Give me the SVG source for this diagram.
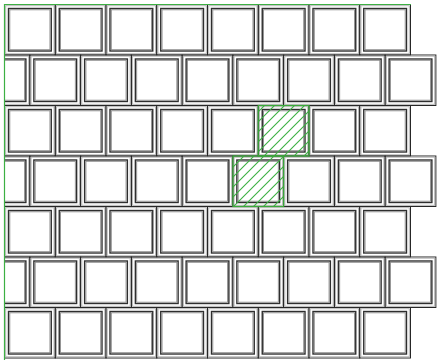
<svg xmlns="http://www.w3.org/2000/svg" xmlns:xlink="http://www.w3.org/1999/xlink" width="437" height="360" viewBox="0 0 437 360">
<style>
.outer{fill:none;stroke:#262626;stroke-width:1}
.halo{fill:none;stroke:#b5b5b5;stroke-width:1}
.inner{fill:none;stroke:#2e2e2e;stroke-width:1.4}
.inner2{fill:none;stroke:#8a8a8a;stroke-width:0.9}
.hl{fill:url(#hatch);stroke:#3aa83a;stroke-width:1.2}
.frame{fill:none;stroke:#3cb043;stroke-width:1.2}
</style>
<defs>
<clipPath id="clip"><rect x="4" y="4" width="433" height="356"/></clipPath>
<pattern id="hatch" patternUnits="userSpaceOnUse" width="10" height="10">
<path d="M-2,2 L2,-2 M0,10 L10,0 M8,12 L12,8" stroke="#3cb043" stroke-width="1.1"/>
</pattern>
<g id="tile">
<rect class="outer" x="0" y="0" width="50.75" height="50.5"/>
<rect class="halo" x="1.2" y="1.2" width="48.35" height="48.1"/>
<rect class="inner" x="4" y="4" width="42.75" height="42.5"/>
<rect class="inner2" x="5.3" y="5.3" width="40.15" height="39.9"/>
</g>
</defs>
<g id="tiles" clip-path="url(#clip)">
<g id="row0">
<use xlink:href="#tile" x="4.5" y="4.5"/><use xlink:href="#tile" x="55.25" y="4.5"/><use xlink:href="#tile" x="106" y="4.5"/><use xlink:href="#tile" x="156.75" y="4.5"/><use xlink:href="#tile" x="207.5" y="4.5"/><use xlink:href="#tile" x="258.25" y="4.5"/><use xlink:href="#tile" x="309" y="4.5"/><use xlink:href="#tile" x="359.75" y="4.5"/>
</g>
<g id="row1">
<use xlink:href="#tile" x="-20.875" y="55"/><use xlink:href="#tile" x="29.875" y="55"/><use xlink:href="#tile" x="80.625" y="55"/><use xlink:href="#tile" x="131.375" y="55"/><use xlink:href="#tile" x="182.125" y="55"/><use xlink:href="#tile" x="232.875" y="55"/><use xlink:href="#tile" x="283.625" y="55"/><use xlink:href="#tile" x="334.375" y="55"/><use xlink:href="#tile" x="385.125" y="55"/>
</g>
<g id="row2">
<use xlink:href="#tile" x="4.5" y="105.5"/><use xlink:href="#tile" x="55.25" y="105.5"/><use xlink:href="#tile" x="106" y="105.5"/><use xlink:href="#tile" x="156.75" y="105.5"/><use xlink:href="#tile" x="207.5" y="105.5"/><use xlink:href="#tile" x="258.25" y="105.5"/><use xlink:href="#tile" x="309" y="105.5"/><use xlink:href="#tile" x="359.75" y="105.5"/>
</g>
<g id="row3">
<use xlink:href="#tile" x="-20.875" y="156"/><use xlink:href="#tile" x="29.875" y="156"/><use xlink:href="#tile" x="80.625" y="156"/><use xlink:href="#tile" x="131.375" y="156"/><use xlink:href="#tile" x="182.125" y="156"/><use xlink:href="#tile" x="232.875" y="156"/><use xlink:href="#tile" x="283.625" y="156"/><use xlink:href="#tile" x="334.375" y="156"/><use xlink:href="#tile" x="385.125" y="156"/>
</g>
<g id="row4">
<use xlink:href="#tile" x="4.5" y="206.5"/><use xlink:href="#tile" x="55.25" y="206.5"/><use xlink:href="#tile" x="106" y="206.5"/><use xlink:href="#tile" x="156.75" y="206.5"/><use xlink:href="#tile" x="207.5" y="206.5"/><use xlink:href="#tile" x="258.25" y="206.5"/><use xlink:href="#tile" x="309" y="206.5"/><use xlink:href="#tile" x="359.75" y="206.5"/>
</g>
<g id="row5">
<use xlink:href="#tile" x="-20.875" y="257"/><use xlink:href="#tile" x="29.875" y="257"/><use xlink:href="#tile" x="80.625" y="257"/><use xlink:href="#tile" x="131.375" y="257"/><use xlink:href="#tile" x="182.125" y="257"/><use xlink:href="#tile" x="232.875" y="257"/><use xlink:href="#tile" x="283.625" y="257"/><use xlink:href="#tile" x="334.375" y="257"/><use xlink:href="#tile" x="385.125" y="257"/>
</g>
<g id="row6">
<use xlink:href="#tile" x="4.5" y="307.5"/><use xlink:href="#tile" x="55.25" y="307.5"/><use xlink:href="#tile" x="106" y="307.5"/><use xlink:href="#tile" x="156.75" y="307.5"/><use xlink:href="#tile" x="207.5" y="307.5"/><use xlink:href="#tile" x="258.25" y="307.5"/><use xlink:href="#tile" x="309" y="307.5"/><use xlink:href="#tile" x="359.75" y="307.5"/>
</g>
</g>
<g id="highlight">
<rect class="hl" x="258.25" y="105.5" width="50.75" height="50.5"/>
<rect class="hl" x="232.875" y="156" width="50.75" height="50.5"/>
</g>
<g id="frame">
<path class="frame" d="M4.5,360 V4.5 H411"/>
</g>
</svg>
